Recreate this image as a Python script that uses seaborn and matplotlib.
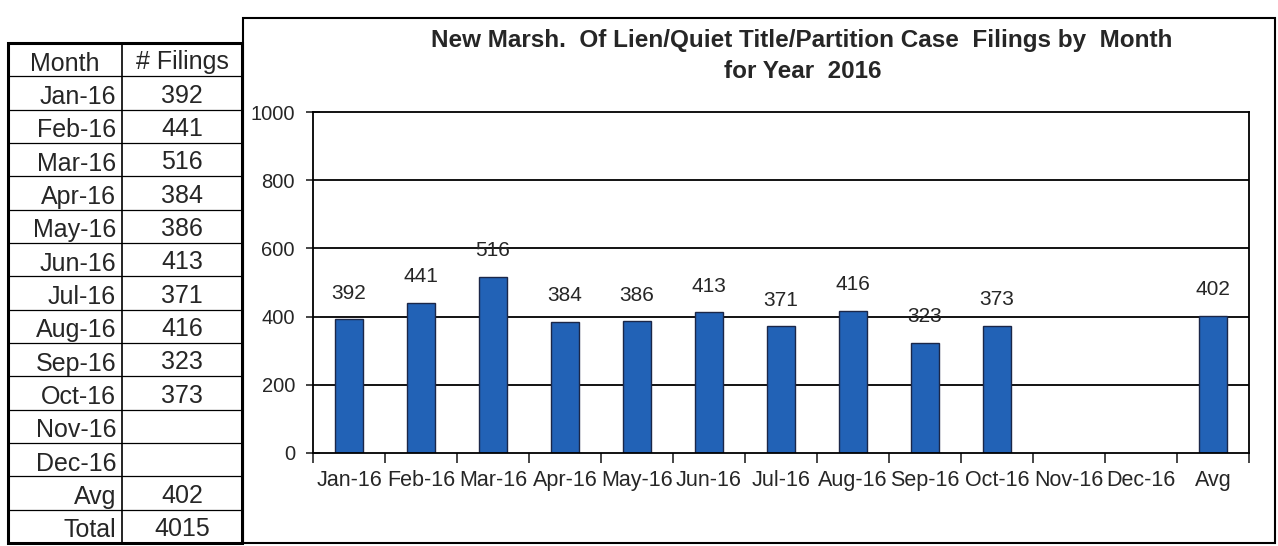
import numpy as np
import pandas as pd
import matplotlib
matplotlib.use("Agg")
import matplotlib.pyplot as plt
import seaborn as sns
from matplotlib.patches import Rectangle

# Datos del gráfico
meses = ["Jan-16", "Feb-16", "Mar-16", "Apr-16", "May-16", "Jun-16",
         "Jul-16", "Aug-16", "Sep-16", "Oct-16", "Nov-16", "Dec-16"]
filings = [392, 441, 516, 384, 386, 413, 371, 416, 323, 373, None, None]
promedio = 402
total = 4015
categorias = meses + ["Avg"]
valores = filings + [promedio]
y_ticks = [0, 200, 400, 600, 800, 1000]
titulo_1 = "New Marsh.  Of Lien/Quiet Title/Partition Case  Filings by  Month"
titulo_2 = "for Year  2016"

sns.set_theme(style="white")
plt.rcParams["font.family"] = ["Liberation Sans", "DejaVu Sans"]

W, H = 1278, 546
fig = plt.figure(figsize=(W / 100, H / 100), dpi=100)

# Caja exterior del gráfico
fig.patches.append(Rectangle((243 / W, 3 / H), (1275 - 243) / W, (543 - 18) / H,
                             transform=fig.transFigure, fill=False,
                             edgecolor="black", linewidth=1.5))

# --- Tabla a la izquierda ---
tx0, ty0, tw, th = 8 / W, 3 / H, 234 / W, 500 / H
tab = fig.add_axes([tx0, ty0, tw, th])
tab.set_xlim(0, 1)
filas = ["Month"] + meses + ["Avg", "Total"]
celdas = ["# Filings"] + ["" if v is None else str(v) for v in filings] + [str(promedio), str(total)]
n = len(filas)
tab.set_ylim(n, 0)
tab.axis("off")
div = 0.487
tab.add_patch(Rectangle((0, 0), 1, n, fill=False, edgecolor="black", linewidth=2.2, clip_on=False))
tab.plot([div, div], [0, n], color="black", linewidth=1.2)
for i in range(1, n):
    tab.plot([0, 1], [i, i], color="black", linewidth=0.9)
for i, (f, c) in enumerate(zip(filas, celdas)):
    if i == 0:
        tab.text(div / 2, i + 0.62, f, ha="center", va="center", fontsize=18)
    else:
        tab.text(div - 0.025, i + 0.62, f, ha="right", va="center", fontsize=18)
    tab.text((div + 1) / 2, i + 0.58, c, ha="center", va="center", fontsize=18)

# --- Gráfico de barras ---
ax = fig.add_axes([313 / W, 1 - 453 / H, (1249 - 313) / W, (453 - 112) / H])
df = pd.DataFrame({"Mes": categorias, "Filings": valores})
sns.barplot(data=df.dropna(), x="Mes", y="Filings", order=categorias,
            color="#2262b6", saturation=1, width=0.4,
            edgecolor="#1b2748", linewidth=1.0, ax=ax)
ax.set_ylim(0, 1000)
ax.set_xlim(-0.5, len(categorias) - 0.5)
ax.set_yticks(y_ticks)
for y in y_ticks[1:-1]:
    ax.axhline(y, color="black", linewidth=1.3, zorder=0)
for s in ax.spines.values():
    s.set_visible(True)
    s.set_color("black")
    s.set_linewidth(1.3)
ax.tick_params(axis="y", direction="inout", length=10, width=1.2, labelsize=14.5,
               pad=8, left=True)
ax.set_xticks(np.arange(len(categorias)))
ax.set_xticklabels(categorias)
ax.tick_params(axis="x", which="major", length=0, labelsize=15.5, pad=12)
ax.set_xticks(np.arange(len(categorias) + 1) - 0.5, minor=True)
ax.tick_params(axis="x", which="minor", direction="out", length=7, width=1.2, bottom=True)
ax.set_xlabel("")
ax.set_ylabel("")

for i, v in enumerate(valores):
    if v is None:
        continue
    ax.annotate(str(v), (i, v), xytext=(0, 12), textcoords="offset points",
                ha="center", va="bottom", fontsize=15)

fig.text(802 / W, 1 - 40 / H, titulo_1, ha="center", va="center",
         fontsize=17.5, fontweight="bold")
fig.text(803 / W, 1 - 72 / H, titulo_2, ha="center", va="center",
         fontsize=17.5, fontweight="bold")

fig.savefig("out.png", dpi=100)
